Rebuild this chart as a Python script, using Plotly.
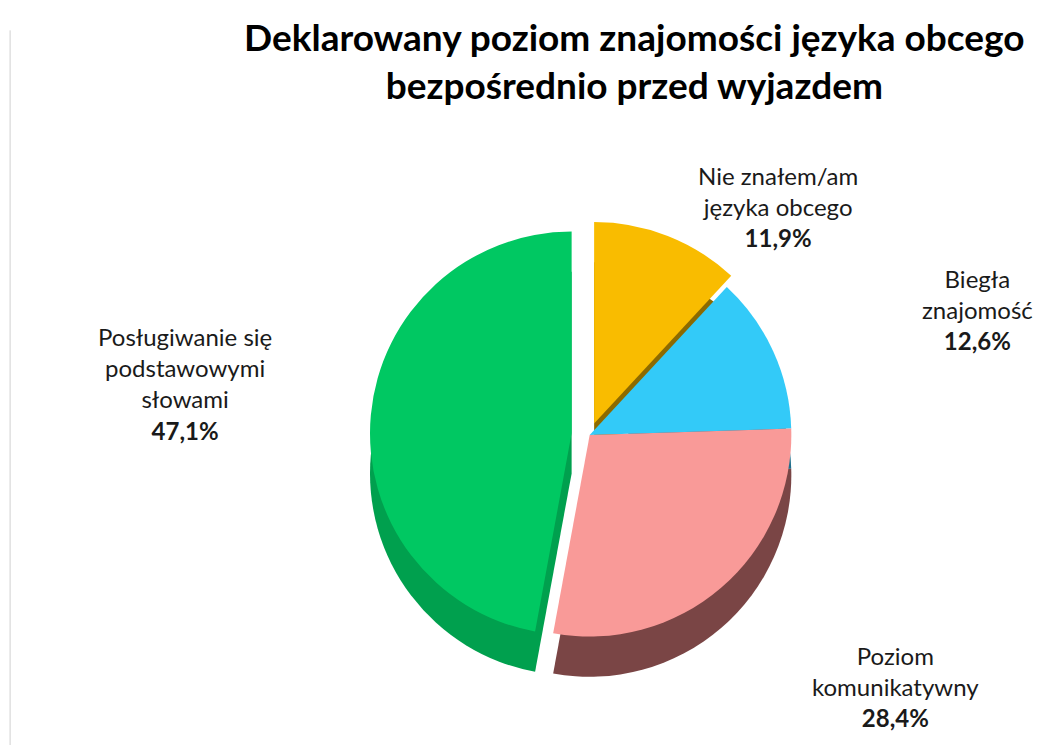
import plotly.graph_objects as go

labels = ["Nie znałem/am<br>języka obcego", "Biegła<br>znajomość", "Poziom<br>komunikatywny",
          "Posługiwanie się<br>podstawowymi<br>słowami"]
values = [11.9, 12.6, 28.4, 47.1]
colors = ["#F9BC00", "#33CAF8", "#F99A98", "#00C862"]
side_colors = ["#8C6A00", "#1F6F8C", "#7A4545", "#00A04E"]
pulls = [0.06, 0.0, 0.0, 0.09]

title_text = "Deklarowany poziom znajomości języka obcego<br>bezpośrednio przed wyjazdem"

# label anchor positions (paper fractions)
label_x = [0.733, 0.923, 0.845, 0.169]
label_y = [0.733, 0.595, 0.089, 0.496]

fig = go.Figure()
# depth (side) layer
fig.add_trace(go.Pie(
    values=values, labels=labels, sort=False, direction="clockwise", rotation=0,
    pull=pulls, marker=dict(colors=side_colors, line=dict(width=0)),
    textinfo="none", domain=dict(x=[0.2, 0.908], y=[0.078, 0.668]),
    showlegend=False, hoverinfo="skip",
))
# top layer
fig.add_trace(go.Pie(
    values=values, labels=labels, sort=False, direction="clockwise", rotation=0,
    pull=pulls, marker=dict(colors=colors, line=dict(width=0)),
    textinfo="none", domain=dict(x=[0.2, 0.908], y=[0.132, 0.722]),
    showlegend=False, hoverinfo="label+percent",
))

annotations = [dict(
    text="<b>" + title_text + "</b>", x=0.597, y=0.995, xref="paper", yref="paper",
    xanchor="center", yanchor="top", showarrow=False, align="center",
    font=dict(family="Lato", size=37, color="black"),
)]
for lab, v, x, y in zip(labels, values, label_x, label_y):
    pct = f"{v:.1f}".replace(".", ",") + "%"
    annotations.append(dict(
        text=f"{lab}<br><b>{pct}</b>", x=x, y=y, xref="paper", yref="paper",
        xanchor="center", yanchor="middle", showarrow=False, align="center",
        font=dict(family="Lato", size=24, color="#1a1a1a"),
    ))

fig.update_layout(
    width=1050, height=745,
    paper_bgcolor="white", plot_bgcolor="white",
    margin=dict(l=0, r=0, t=0, b=0),
    annotations=annotations,
    shapes=[dict(type="line", xref="paper", yref="paper", x0=0.002, x1=0.002, y0=0, y1=0.97,
                 line=dict(color="#d0d0d0", width=1))],
)

fig.write_html("out.html")
